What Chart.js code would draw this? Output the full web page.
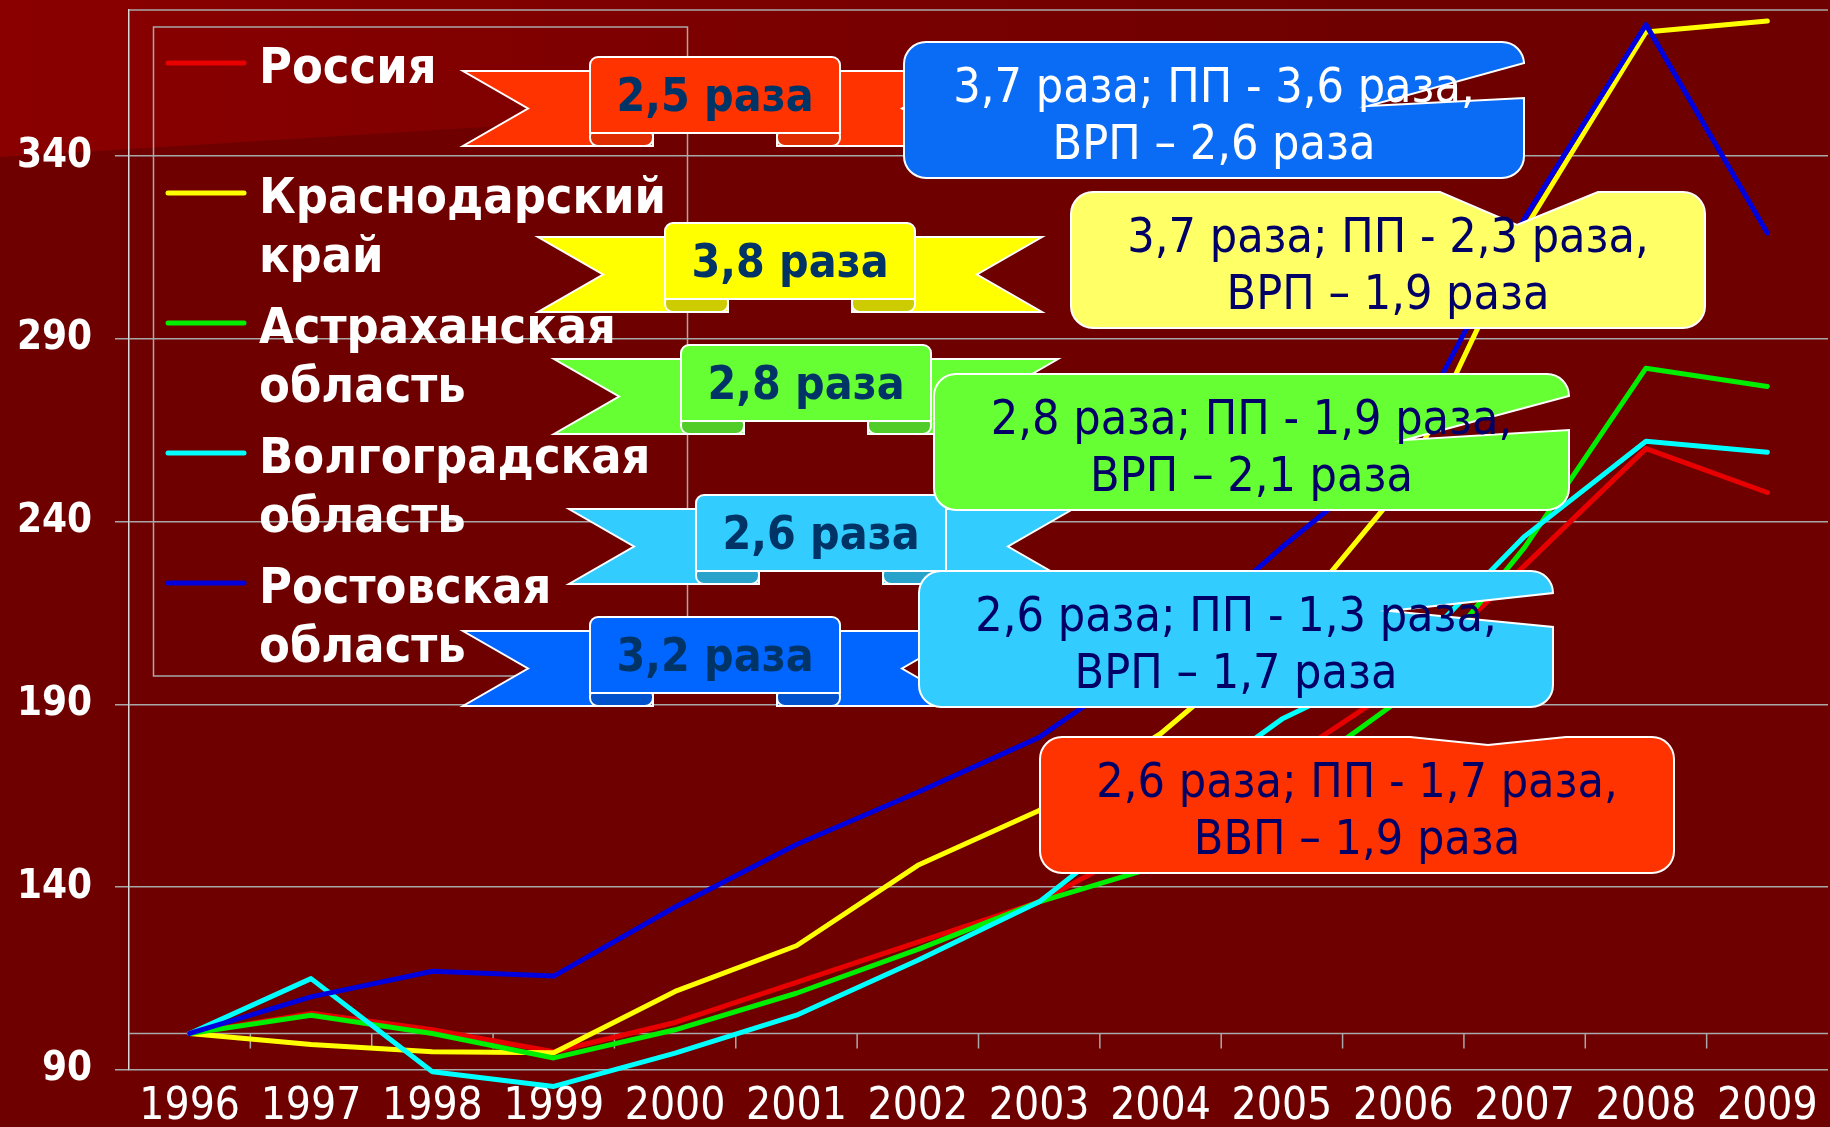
<!DOCTYPE html>
<html lang="ru">
<head>
<meta charset="utf-8">
<title>Рост по регионам, 1996–2009</title>
<script src="https://cdn.jsdelivr.net/npm/chart.js@4.4.1/dist/chart.umd.min.js"></script>
<style>
  html, body { margin: 0; padding: 0; background: #6E0000; }
  .wrap { position: relative; width: 1830px; height: 1127px; }
</style>
</head>
<body>
<div class="wrap"><canvas id="chart"></canvas></div>
<script>
// ---- Data ----
const years = ['1996', '1997', '1998', '1999', '2000', '2001', '2002',
               '2003', '2004', '2005', '2006', '2007', '2008', '2009'];
const seriesNames = ['Россия', 'Краснодарский край', 'Астраханская область',
                     'Волгоградская область', 'Ростовская область'];
const russia    = [100, 105.5, 101, 95, 103, 114, 125, 136, 154, 174, 196, 228, 260, 248];
const krasnodar = [100, 97, 95, 94.7, 111.5, 124, 146, 161, 182, 210, 250, 320, 374, 377];
const astrakhan = [100, 105, 100, 93.3, 101, 111, 123, 136, 146, 168, 192, 233, 282, 277];
const volgograd = [100, 115, 89.5, 85.5, 94.6, 105, 120, 136, 162, 186, 202, 236, 262, 259];
const rostov    = [100, 110, 117, 115.7, 134.6, 151.7, 166, 181, 204, 233, 260, 323, 376, 319];
const yTicks = [90, 140, 190, 240, 290, 340];
const crossValue = 100;

// growth banners (same order as series) and the notes in the callouts
const growth = ['2,5 раза', '3,8 раза', '2,8 раза', '2,6 раза', '3,2 раза'];
const notes = [
  ['2,6 раза; ПП - 1,7 раза,', 'ВВП – 1,9 раза'],
  ['3,7 раза; ПП - 2,3 раза,', 'ВРП – 1,9 раза'],
  ['2,8 раза; ПП - 1,9 раза,', 'ВРП – 2,1 раза'],
  ['2,6 раза; ПП - 1,3 раза,', 'ВРП – 1,7 раза'],
  ['3,7 раза; ПП - 3,6 раза,', 'ВРП – 2,6 раза']
];

// ---- Styles / layout ----
const FONT = "'DejaVu Sans Condensed', 'Liberation Sans Narrow', 'DejaVu Sans', sans-serif";
const lineColors = ['#E80000', '#FFFF00', '#00EE00', '#00FFFF', '#0000DD'];
const GRID = '#A8A8A8';

const ribbonSpots = [
  { x: 590, y: 57,  fill: '#FF3300', curl: '#E02D00' },
  { x: 665, y: 223, fill: '#FFFF00', curl: '#CCCC00' },
  { x: 681, y: 345, fill: '#66FF33', curl: '#52CC29' },
  { x: 696, y: 495, fill: '#33CCFF', curl: '#29A3CC' },
  { x: 590, y: 617, fill: '#0066FF', curl: '#0052CC' }
];

const calloutSpots = [
  { x: 1040, y: 737, w: 634, h: 136, fill: '#FF3300', ink: '#000066',
    side: 'top', notch: [[1410, 737], [1488, 745], [1566, 737]] },
  { x: 1071, y: 192, w: 634, h: 136, fill: '#FFFF66', ink: '#000066',
    side: 'top', notch: [[1440, 192], [1517, 225], [1598, 192]] },
  { x: 934, y: 374, w: 635, h: 136, fill: '#66FF33', ink: '#000066',
    side: 'right', notch: [[1569, 396], [1405, 440], [1569, 430]] },
  { x: 919, y: 571, w: 634, h: 136, fill: '#33CCFF', ink: '#000066',
    side: 'right', notch: [[1553, 593], [1389, 611], [1553, 627]] },
  { x: 904, y: 42, w: 620, h: 136, fill: '#0A6CF5', ink: '#FFFFFF',
    side: 'right', notch: [[1524, 63], [1368, 106], [1524, 98]] }
];

// ---- Plugins ----
const backdrop = {
  id: 'backdrop',
  beforeDraw(chart) {
    const { ctx, width, height } = chart;
    ctx.save();
    ctx.fillStyle = '#6E0000';
    ctx.fillRect(0, 0, width, height);
    const g = ctx.createLinearGradient(0, 0, 1400, 0);
    g.addColorStop(0, '#8A0000');
    g.addColorStop(0.45, '#7E0000');
    g.addColorStop(1, '#6E0000');
    ctx.fillStyle = g;
    ctx.beginPath();
    ctx.moveTo(0, 0);
    ctx.lineTo(width, 0);
    ctx.lineTo(width, 44);
    ctx.lineTo(0, 157);
    ctx.closePath();
    ctx.fill();
    ctx.restore();
  }
};

const frame = {
  id: 'frame',
  beforeDatasetsDraw(chart) {
    const { ctx, chartArea: a, scales: { x, y } } = chart;
    ctx.save();
    ctx.strokeStyle = GRID;
    ctx.lineWidth = 1.5;
    ctx.beginPath();
    ctx.moveTo(a.left, a.top);
    ctx.lineTo(a.right, a.top);
    // category axis crosses at 100
    const yc = y.getPixelForValue(crossValue);
    ctx.moveTo(a.left, yc);
    ctx.lineTo(a.right, yc);
    for (let i = 0; i < years.length - 1; i++) {
      const xb = (x.getPixelForValue(i) + x.getPixelForValue(i + 1)) / 2;
      ctx.moveTo(xb, yc);
      ctx.lineTo(xb, yc + 15);
    }
    ctx.stroke();
    ctx.restore();
  }
};

function drawLegend(ctx, chart) {
  ctx.strokeStyle = GRID;
  ctx.lineWidth = 1.5;
  ctx.strokeRect(153.5, 27, 534, 649);
  chart.data.datasets.forEach((ds, i) => {
    const yy = 63 + i * 130;
    ctx.strokeStyle = ds.borderColor;
    ctx.lineWidth = 5;
    ctx.lineCap = 'round';
    ctx.beginPath();
    ctx.moveTo(168, yy);
    ctx.lineTo(244, yy);
    ctx.stroke();
    ctx.fillStyle = '#FFFFFF';
    ctx.font = `bold 50px ${FONT}`;
    ctx.textAlign = 'left';
    ctx.textBaseline = 'alphabetic';
    ds.label.split(' ').forEach((w, k) => ctx.fillText(w, 259, yy + 20 + k * 59));
  });
}

function drawRibbon(ctx, r, label) {
  const pw = 250, ph = 76, tail = 127, notch = 65, curlW = 63;
  const L = r.x, T = r.y, R = L + pw;
  const tt = T + 14, tb = T + 89, tm = (tt + tb) / 2;
  ctx.lineWidth = 2;
  ctx.lineJoin = 'miter';
  ctx.strokeStyle = '#FFFFFF';
  ctx.fillStyle = r.fill;
  [[L - tail, L + curlW, notch], [R + tail, R - curlW, -notch]].forEach(([tip, inner, n]) => {
    ctx.beginPath();
    ctx.moveTo(tip, tt);
    ctx.lineTo(inner, tt);
    ctx.lineTo(inner, tb);
    ctx.lineTo(tip, tb);
    ctx.lineTo(tip + n, tm);
    ctx.closePath();
    ctx.fill();
    ctx.stroke();
  });
  ctx.fillStyle = r.curl;
  [L, R - curlW].forEach(cx => {
    ctx.beginPath();
    ctx.roundRect(cx, T + ph - 5, curlW, tb - (T + ph - 5), 8);
    ctx.fill();
    ctx.stroke();
  });
  ctx.fillStyle = r.fill;
  ctx.beginPath();
  ctx.roundRect(L, T, pw, ph, [8, 8, 0, 0]);
  ctx.fill();
  ctx.stroke();
  ctx.fillStyle = '#003366';
  ctx.font = `bold 46px ${FONT}`;
  ctx.textAlign = 'center';
  ctx.textBaseline = 'alphabetic';
  ctx.fillText(label, L + pw / 2, T + 54);
}

function drawCallout(ctx, c, lines) {
  const r = 22, R = c.x + c.w, B = c.y + c.h;
  ctx.beginPath();
  ctx.moveTo(c.x + r, c.y);
  if (c.side === 'top') c.notch.forEach(p => ctx.lineTo(p[0], p[1]));
  ctx.lineTo(R - r, c.y);
  ctx.arcTo(R, c.y, R, c.y + r, r);
  if (c.side === 'right') c.notch.forEach(p => ctx.lineTo(p[0], p[1]));
  ctx.lineTo(R, B - r);
  ctx.arcTo(R, B, R - r, B, r);
  ctx.lineTo(c.x + r, B);
  ctx.arcTo(c.x, B, c.x, B - r, r);
  ctx.lineTo(c.x, c.y + r);
  ctx.arcTo(c.x, c.y, c.x + r, c.y, r);
  ctx.closePath();
  ctx.fillStyle = c.fill;
  ctx.fill();
  ctx.strokeStyle = '#FFFFFF';
  ctx.lineWidth = 2;
  ctx.stroke();
  ctx.fillStyle = c.ink;
  ctx.font = `48px ${FONT}`;
  ctx.textAlign = 'center';
  ctx.textBaseline = 'alphabetic';
  lines.forEach((t, k) => ctx.fillText(t, c.x + c.w / 2, c.y + 60 + k * 57));
}

const overlay = {
  id: 'overlay',
  afterDatasetsDraw(chart) {
    const ctx = chart.ctx;
    ctx.save();
    drawLegend(ctx, chart);
    ribbonSpots.forEach((r, i) => drawRibbon(ctx, r, growth[i]));
    calloutSpots.forEach((c, i) => drawCallout(ctx, c, notes[i]));
    ctx.restore();
  }
};

// ---- Chart ----
const seriesValues = [russia, krasnodar, astrakhan, volgograd, rostov];

new Chart(document.getElementById('chart'), {
  type: 'line',
  data: {
    labels: years,
    datasets: seriesValues.map((vals, i) => ({
      label: seriesNames[i],
      data: vals,
      borderColor: lineColors[i],
      backgroundColor: lineColors[i],
      borderWidth: 5,
      pointRadius: 0,
      tension: 0,
      clip: false,
      order: seriesValues.length - 1 - i
    }))
  },
  options: {
    responsive: true,
    maintainAspectRatio: false,
    animation: false,
    layout: { padding: { top: 10, right: 2, left: 0, bottom: 0 } },
    plugins: { legend: { display: false }, tooltip: { enabled: false } },
    elements: { line: { borderJoinStyle: 'round', borderCapStyle: 'round' } },
    scales: {
      x: {
        offset: true,
        grid: { display: false, drawTicks: false },
        border: { display: false },
        ticks: { color: '#FFFFFF', font: { family: FONT, size: 44 }, padding: 11,
                 maxRotation: 0, autoSkip: false },
        afterFit: s => { s.height = 57; s.paddingLeft = 0; s.paddingRight = 0; }
      },
      y: {
        min: 90,
        max: 380,
        afterBuildTicks: s => { s.ticks = yTicks.map(v => ({ value: v })); },
        grid: { color: GRID, lineWidth: 1.5, tickLength: 14 },
        border: { display: true, color: '#D8D8D8', width: 1.5 },
        ticks: { color: '#FFFFFF', font: { family: FONT, size: 40, weight: 'bold' }, padding: 23 },
        afterFit: s => { s.width = 129; s.paddingTop = 0; s.paddingBottom = 0; }
      }
    }
  },
  plugins: [backdrop, frame, overlay]
});
</script>
</body>
</html>
